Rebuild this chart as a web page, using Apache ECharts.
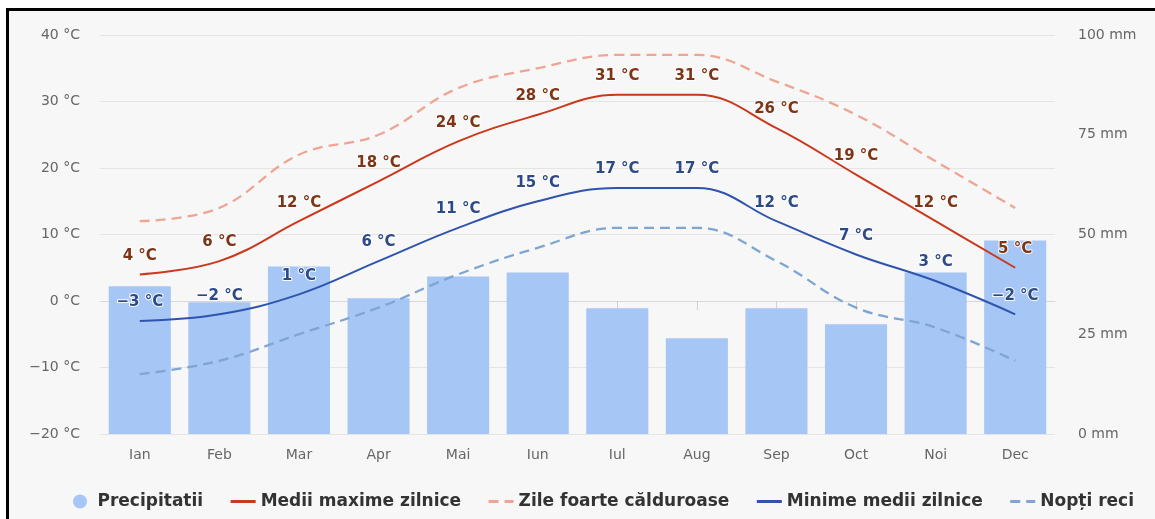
<!DOCTYPE html>
<html>
<head>
<meta charset="utf-8">
<script src="https://cdn.jsdelivr.net/npm/echarts@6/dist/echarts.min.js"></script>
<style>
  html, body { margin: 0; padding: 0; background: #ffffff; }
  #chart { position: absolute; left: 0; top: 0; width: 1155px; height: 519px; }
</style>
</head>
<body>
<div id="chart"></div>
<script>
// Monthly climate data
const months = ['Ian', 'Feb', 'Mar', 'Apr', 'Mai', 'Iun', 'Iul', 'Aug', 'Sep', 'Oct', 'Noi', 'Dec'];
const precipitation = [37, 33, 42, 34, 39.5, 40.5, 31.5, 24, 31.5, 27.5, 40.5, 48.5]; // mm
const dailyMax = [4, 6, 12, 18, 24, 28, 31, 31, 26, 19, 12, 5];     // °C
const hotDays = [12, 14, 22, 25, 32, 35, 37, 37, 33, 28, 21, 14];    // °C
const dailyMin = [-3, -2, 1, 6, 11, 15, 17, 17, 12, 7, 3, -2];      // °C
const coldNights = [-11, -9, -5, -1, 4, 8, 11, 11, 6, -1, -4, -9];  // °C

const seriesNames = ['Precipitatii', 'Medii maxime zilnice', 'Zile foarte călduroase', 'Minime medii zilnice', 'Nopți reci'];

const fontFamily = '"DejaVu Sans", "Noto Sans", sans-serif';

function tempLabel(color) {
  return {
    show: true,
    position: 'top',
    distance: 11,
    fontFamily: fontFamily,
    fontSize: 15,
    fontWeight: 'bold',
    color: color,
    textBorderColor: 'rgba(255,255,255,0.95)',
    textBorderWidth: 2,
    formatter: function (p) { return String(p.value).replace('-', '\u2212') + ' \u00B0C'; }
  };
}

// spline series without visible markers; labels still sit on each point
function tempLine(name, data, color, dashed, labelColor) {
  return {
    name: name,
    type: 'line',
    data: data,
    smooth: 0.4,
    showSymbol: !!labelColor,
    symbol: labelColor ? 'circle' : 'none',
    symbolSize: 0,
    itemStyle: { color: color },
    lineStyle: { color: color, width: dashed ? 2.3 : 2, type: dashed ? [10, 6] : 'solid' },
    label: labelColor ? tempLabel(labelColor) : { show: false },
    emphasis: { disabled: true },
    z: labelColor ? 4 : 3
  };
}

const chart = echarts.init(document.getElementById('chart'), null, { renderer: 'canvas' });

chart.setOption({
  backgroundColor: '#f7f7f7',
  animation: false,
  textStyle: { fontFamily: fontFamily },
  grid: { left: 100, right: 100, top: 35, bottom: 85, containLabel: false },
  legend: {
    bottom: 4,
    left: 68,
    itemWidth: 25,
    itemHeight: 14,
    itemGap: 26,
    lineStyle: { width: 3 },
    textStyle: { fontFamily: fontFamily, fontSize: 17, fontWeight: 'bold', color: '#333333' },
    data: [
      { name: seriesNames[0], icon: 'circle' },
      { name: seriesNames[1], itemStyle: { opacity: 0 } },
      { name: seriesNames[2], itemStyle: { opacity: 0 } },
      { name: seriesNames[3], itemStyle: { opacity: 0 } },
      { name: seriesNames[4], itemStyle: { opacity: 0 } }
    ]
  },
  xAxis: {
    type: 'category',
    data: months,
    boundaryGap: true,
    axisLine: { lineStyle: { color: '#d8d8d8', width: 1 } },
    axisTick: { show: true, alignWithLabel: true, length: 9, lineStyle: { color: '#d0d0d0' } },
    axisLabel: { color: '#666666', fontSize: 14, margin: 14, fontFamily: fontFamily }
  },
  yAxis: [
    {
      type: 'value',
      min: -20,
      max: 40,
      interval: 10,
      axisLine: { show: false },
      axisTick: { show: false },
      splitLine: { lineStyle: { color: '#e4e4e4', width: 1 } },
      axisLabel: { color: '#666666', fontSize: 14, margin: 20, formatter: function (v) { return String(v).replace('-', '\u2212') + ' \u00B0C'; }, fontFamily: fontFamily }
    },
    {
      type: 'value',
      min: 0,
      max: 100,
      interval: 25,
      position: 'right',
      axisLine: { show: false },
      axisTick: { show: false },
      splitLine: { show: false },
      axisLabel: { color: '#666666', fontSize: 14, margin: 23, formatter: '{value} mm', fontFamily: fontFamily }
    }
  ],
  series: [
    {
      name: seriesNames[0],
      type: 'bar',
      yAxisIndex: 1,
      data: precipitation,
      barWidth: '78%',
      itemStyle: { color: '#a6c6f6' },
      emphasis: { disabled: true },
      z: 1
    },
    tempLine(seriesNames[1], dailyMax, '#c9391c', false, '#7e3516'),
    tempLine(seriesNames[2], hotDays, '#eea593', true, null),
    tempLine(seriesNames[3], dailyMin, '#2f54ad', false, '#2c4a88'),
    tempLine(seriesNames[4], coldNights, '#7fa5d1', true, null)
  ],
  graphic: [
    // frame: white margin strips and dark border along the top and left edges
    { type: 'rect', left: 0, top: 0, shape: { width: 1155, height: 8 }, style: { fill: '#ffffff' }, silent: true, z: 100 },
    { type: 'rect', left: 0, top: 0, shape: { width: 6, height: 519 }, style: { fill: '#ffffff' }, silent: true, z: 100 },
    { type: 'rect', left: 6, top: 8, shape: { width: 1149, height: 3 }, style: { fill: '#000000' }, silent: true, z: 101 },
    { type: 'rect', left: 6, top: 8, shape: { width: 3, height: 511 }, style: { fill: '#000000' }, silent: true, z: 101 }
  ]
});
</script>
</body>
</html>
